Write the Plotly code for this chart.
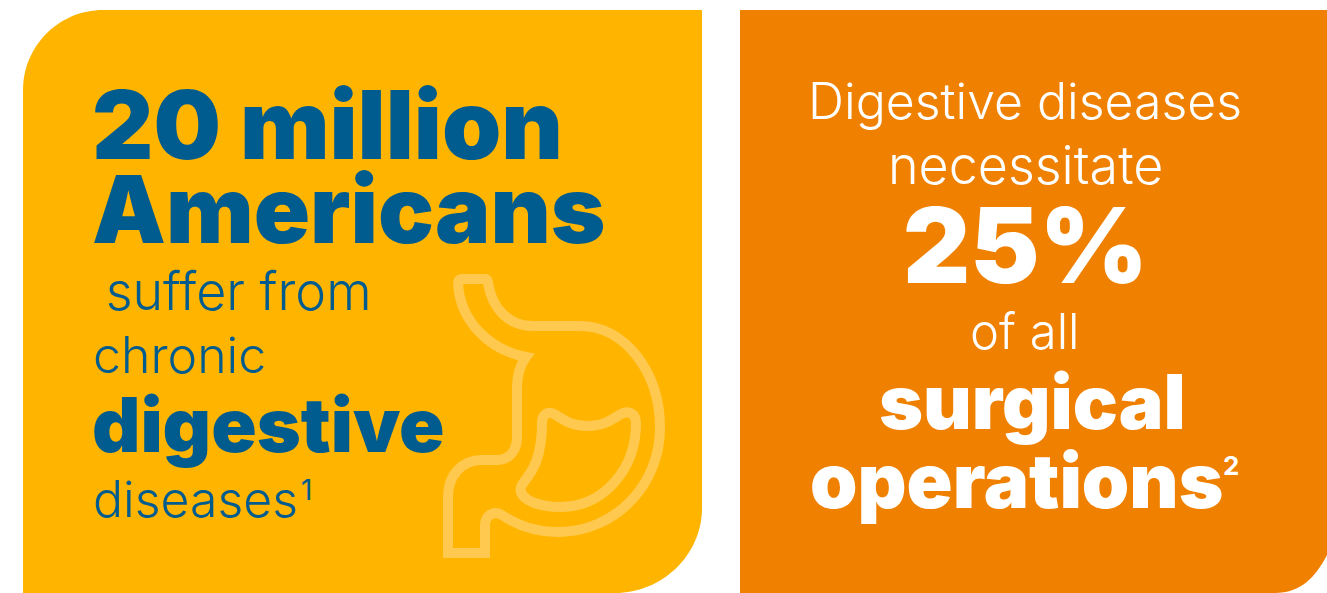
import plotly.graph_objects as go

PANEL_A = "#FFB500"
PANEL_B = "#F08000"
BLUE = "#005B8F"
WHITE = "#FFFFFF"
STOMACH = "#FFC94F"

left_lines = ["20 million", "Americans", " suffer from", "chronic", "digestive", "diseases"]
right_lines = ["Digestive diseases", "necessitate", "25%", "of all", "surgical", "operations"]
footnote_marks = ["1", "2"]

panel_a = ("M 103 10 L 702 10 L 702 508 C 702 555 662 593 615 593 L 23 593 L 23 90 "
           "C 23 46 59 10 103 10 Z")
panel_b = "M 740 10 L 1327 10 L 1327 555 C 1315 578 1300 593 1275 593 L 740 593 Z"
outer = ("M 462 279 L 485 279 Q 488 279 488 283 C 492 308 508 326 533 326 L 580 326 "
         "C 625 326 660 372 660 428 C 660 485 615 532 558 532 C 535 532 518 526 502 515 "
         "C 493 510 485 516 485 525 L 485 553 L 448 553 L 448 497 C 448 475 462 460 482 460 "
         "L 497 460 C 510 460 517 450 517 437 L 517 388 C 517 375 520 365 526 357 "
         "C 490 350 460 322 458 283 Q 458 279 462 279 Z")
inner = ("M 542 423 C 542 414 548 411 554 414 C 565 421 572 426 587 426 C 603 426 610 421 621 414 "
         "C 629 410 636 414 636 423 C 636 470 603 507 560 507 C 540 507 518 500 521 487 "
         "C 524 478 542 470 542 423 Z")

fig = go.Figure()
shapes = [
    dict(type="path", path=panel_a, fillcolor=PANEL_A, line=dict(width=0), layer="below"),
    dict(type="path", path=panel_b, fillcolor=PANEL_B, line=dict(width=0), layer="below"),
    dict(type="path", path=outer, fillcolor="rgba(0,0,0,0)", line=dict(color=STOMACH, width=10), layer="below"),
    dict(type="path", path=inner, fillcolor="rgba(0,0,0,0)", line=dict(color=STOMACH, width=10), layer="below"),
]

def text(x, y, s, size, color, family, weight, anchor="left"):
    fig.add_annotation(x=x, y=y, text=s, showarrow=False, xanchor=anchor, yanchor="middle",
                       font=dict(size=size, color=color, family=family, weight=weight))

HEAVY = "Inter"
LIGHT = "Inter"
text(90, 124, left_lines[0], 95, BLUE, HEAVY, 900)
text(90, 209, left_lines[1], 93, BLUE, HEAVY, 900)
text(89, 291, left_lines[2], 52, BLUE, LIGHT, 300)
text(91, 355, left_lines[3], 50, BLUE, LIGHT, 300)
text(90, 424, left_lines[4], 75, BLUE, HEAVY, 900)
text(91, 499, left_lines[5], 50, BLUE, LIGHT, 300)
text(306, 490, footnote_marks[0], 28, BLUE, LIGHT, 400, "center")
text(1025, 101, right_lines[0], 50, WHITE, LIGHT, 300, "center")
text(1025, 165, right_lines[1], 52, WHITE, LIGHT, 300, "center")
text(1025, 245, right_lines[2], 104, WHITE, HEAVY, 900, "center")
text(1025, 331, right_lines[3], 49, WHITE, LIGHT, 300, "center")
text(1032, 401, right_lines[4], 75, WHITE, HEAVY, 900, "center")
text(808, 480, right_lines[5], 76, WHITE, HEAVY, 900)
text(1231, 465, footnote_marks[1], 26, WHITE, HEAVY, 700, "center")

fig.update_layout(
    width=1327, height=593, margin=dict(l=0, r=0, t=0, b=0),
    paper_bgcolor="white", plot_bgcolor="white", shapes=shapes, showlegend=False,
    xaxis=dict(range=[0, 1327], visible=False, fixedrange=True),
    yaxis=dict(range=[593, 0], visible=False, fixedrange=True),
)
fig.write_html("out.html", config=dict(displayModeBar=False),
               post_script="document.body.style.margin='0';document.documentElement.style.overflow='hidden';")
